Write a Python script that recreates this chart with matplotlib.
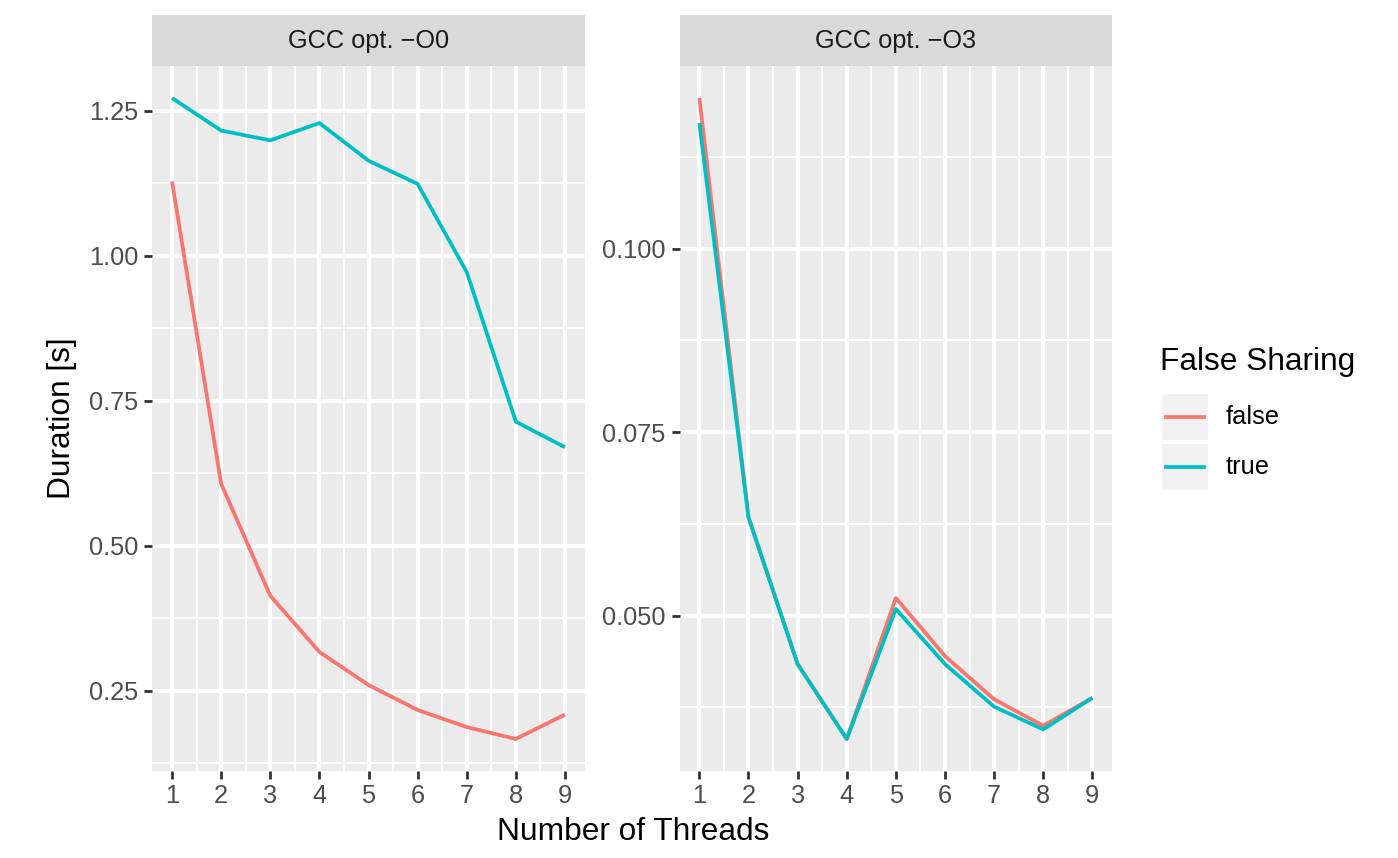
import matplotlib
matplotlib.use("Agg")
import matplotlib.pyplot as plt
from matplotlib.patches import Rectangle
from matplotlib.lines import Line2D
import numpy as np

plt.rcParams['font.family'] = ['Liberation Sans', 'DejaVu Sans']

threads = [1, 2, 3, 4, 5, 6, 7, 8, 9]
panels = ["GCC opt. \u2212O0", "GCC opt. \u2212O3"]
o0_false = [1.128, 0.607, 0.414, 0.317, 0.260, 0.217, 0.1875, 0.167, 0.209]
o0_true = [1.272, 1.216, 1.199, 1.229, 1.164, 1.124, 0.972, 0.714, 0.670]
o3_false = [0.1205, 0.0634, 0.0434, 0.0332, 0.0524, 0.0445, 0.0386, 0.0350, 0.0388]
o3_true = [0.1171, 0.0634, 0.0434, 0.0332, 0.0509, 0.0434, 0.0376, 0.0345, 0.0388]
series_names = ["false", "true"]
colors = ["#F8766D", "#00BFC4"]

o0_major = [0.25, 0.50, 0.75, 1.00, 1.25]
o0_minor = [0.125, 0.375, 0.625, 0.875, 1.125]
o3_major = [0.050, 0.075, 0.100]
o3_minor = [0.0375, 0.0625, 0.0875, 0.1125]

SMALL = 18.3
BIG = 22.8

W, H = 1398, 858
fig = plt.figure(figsize=(W / 100, H / 100), dpi=100)

def px_rect(x0, y0, x1, y1):
    return [x0 / W, 1 - y1 / H, (x1 - x0) / W, (y1 - y0) / H]

panel_px = [(152.4, 66, 584.6, 771), (679.7, 66, 1112, 771)]
data = [(o0_false, o0_true, o0_major, o0_minor, "%.2f"),
        (o3_false, o3_true, o3_major, o3_minor, "%.3f")]

for (x0, y0, x1, y1), title, (yf, yt, maj, mnr, fmt) in zip(panel_px, panels, data):
    ax = fig.add_axes(px_rect(x0, y0, x1, y1))
    ax.set_facecolor("#EBEBEB")
    for s in ax.spines.values():
        s.set_visible(False)
    # grid
    for v in mnr:
        ax.axhline(v, color="white", lw=1.4, zorder=0.5)
    for v in np.array(threads[:-1]) + 0.5:
        ax.axvline(v, color="white", lw=1.4, zorder=0.5)
    for v in maj:
        ax.axhline(v, color="white", lw=2.8, zorder=0.6)
    for v in threads:
        ax.axvline(v, color="white", lw=2.8, zorder=0.6)
    ax.plot(threads, yf, color=colors[0], lw=2.7, zorder=2, solid_capstyle="butt")
    ax.plot(threads, yt, color=colors[1], lw=2.7, zorder=3, solid_capstyle="butt")
    allv = yf + yt
    lo, hi = min(allv), max(allv)
    r = hi - lo
    ax.set_ylim(lo - 0.05 * r, hi + 0.05 * r)
    ax.set_xlim(0.6, 9.4)
    ax.set_xticks(threads)
    ax.set_xticklabels([str(t) for t in threads])
    ax.set_yticks(maj)
    ax.set_yticklabels([fmt % v for v in maj])
    ax.tick_params(axis="both", length=5.5, width=2, color="#333333",
                   labelcolor="#4D4D4D", labelsize=SMALL)
    ax.tick_params(axis="x", pad=4.0)
    ax.tick_params(axis="y", pad=4.5)
    # strip
    sax = fig.add_axes(px_rect(x0, 15.5, x1, 66))
    sax.set_facecolor("#D9D9D9")
    sax.set_xticks([]); sax.set_yticks([])
    for s in sax.spines.values():
        s.set_visible(False)
    sax.text(0.5, 0.5, title, ha="center", va="center", fontsize=SMALL,
             color="#1A1A1A", transform=sax.transAxes)

# axis titles
fig.text(633 / W, 1 - 832 / H, "Number of Threads", ha="center", va="center",
         fontsize=BIG, color="black")
fig.text(62 / W, 1 - (66 + 771) / 2 / H, "Duration [s]", ha="center", va="center",
         rotation=90, fontsize=BIG, color="black")

# legend
lax = fig.add_axes([0, 0, 1, 1])
lax.set_xlim(0, W); lax.set_ylim(H, 0)
lax.axis("off")
lax.patch.set_alpha(0)
lax.text(1160, 362, "False Sharing", ha="left", va="center", fontsize=BIG, color="black")
key_tops = [394, 444]
for name, col, top in zip(series_names, colors, key_tops):
    lax.add_patch(Rectangle((1162, top), 46, 46, facecolor="#F2F2F2", edgecolor="none"))
    lax.add_line(Line2D([1166, 1204], [top + 23, top + 23], color=col, lw=2.7))
    lax.text(1226, top + 23, name, ha="left", va="center", fontsize=SMALL, color="black")

fig.savefig("out.png", dpi=100)
